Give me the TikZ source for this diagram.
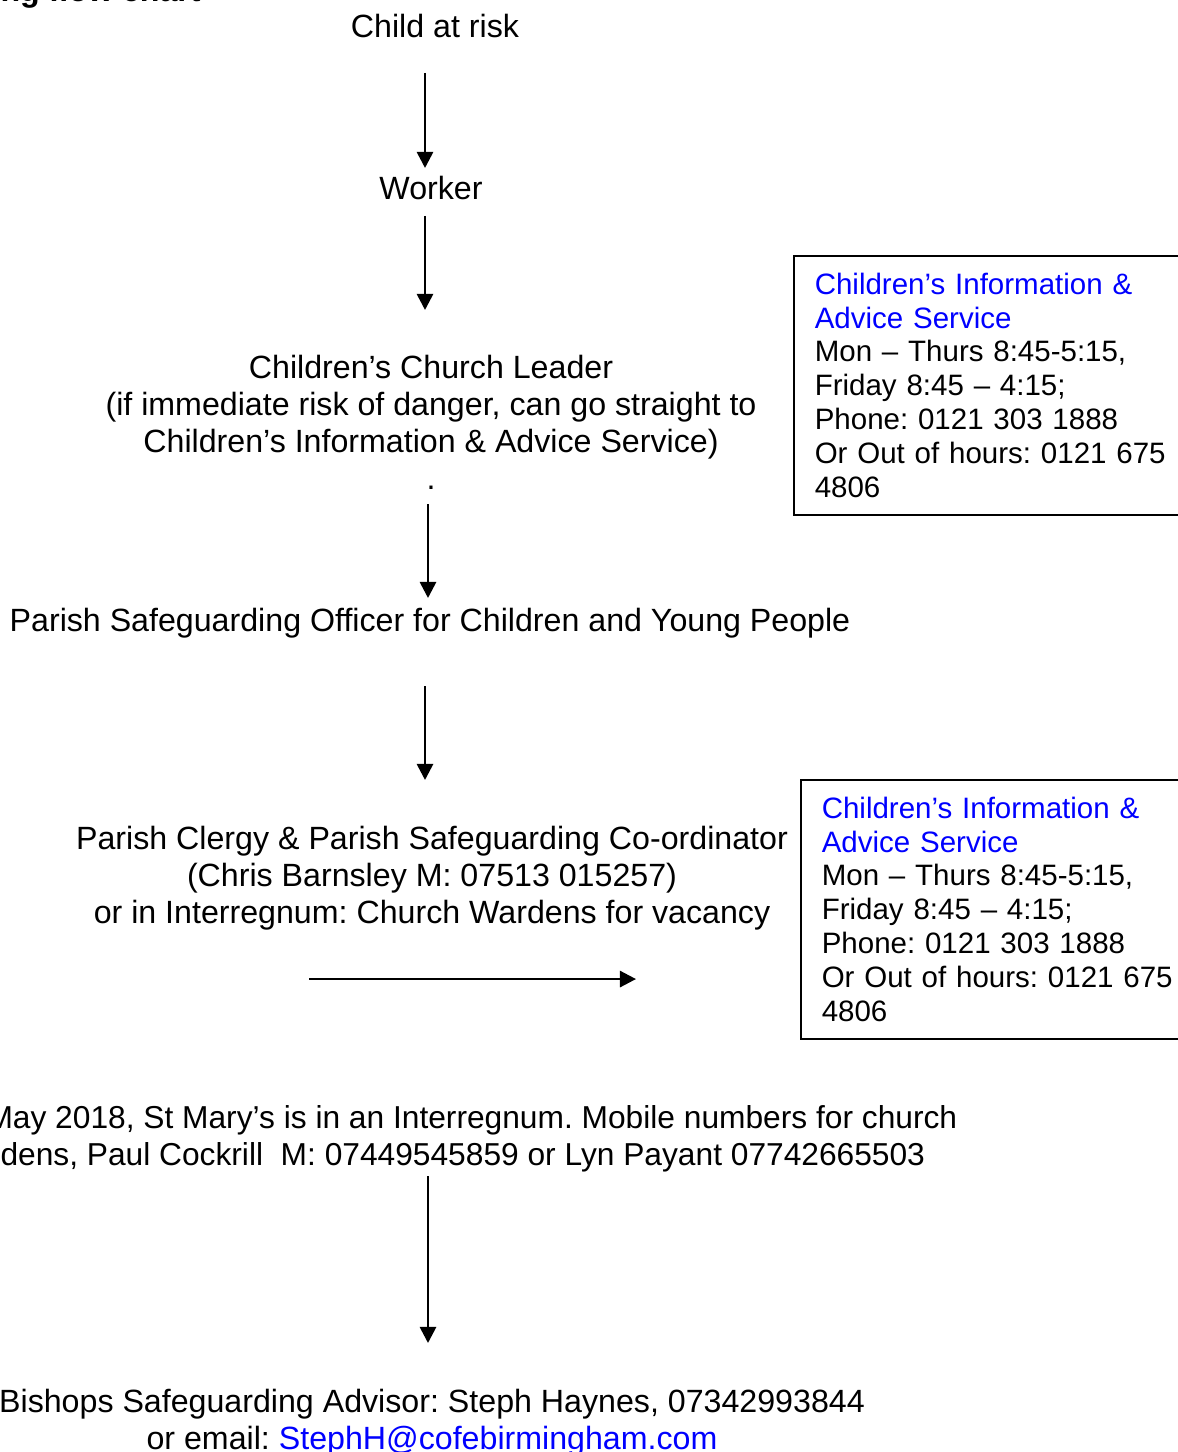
\documentclass[tikz,border=0pt]{standalone}
\usepackage{fontspec}
\setmainfont{Liberation Sans}
\usetikzlibrary{arrows.meta, positioning, calc}
\definecolor{linkblue}{RGB}{0,0,255}
\frenchspacing

\begin{document}
\begin{tikzpicture}[x=0.373pt, y=-0.373pt,
    flowtext/.style={font=\fontsize{12pt}{13.8pt}\selectfont, inner sep=0pt, align=center},
    notetext/.style={font=\fontsize{11.83pt}{13.8pt}\selectfont, inner sep=0pt, anchor=base west},
    infobox/.style={draw, line width=0.65pt, anchor=north west, inner xsep=7.8pt, inner ysep=6.3pt,
                    text width=150pt, align=left, font=\fontsize{11pt}{12.65pt}\selectfont},
    flow/.style={line width=1pt, -{Triangle[length=6pt, width=6pt]}}]
    \useasboundingbox (0,0) rectangle (1178,1452);

    %--- heading (cut at the top edge)
    \node[font=\bfseries\fontsize{12pt}{13.8pt}\selectfont, inner sep=0pt, anchor=base west] (title) at (0,2) {ng flow chart};

    %--- main column
    \node[flowtext, anchor=base]  (child)   at (435,38)  {Child at risk};
    \node[flowtext, anchor=base]  (worker)  at (431,200) {Worker};
    \node[flowtext, anchor=north] (leader)  at (431,355) {Children’s Church Leader\\(if immediate risk of danger, can go straight to\\Children’s Information \& Advice Service)\\.};
    \node[flowtext, anchor=base]  (officer) at (430,631) {Parish Safeguarding Officer for Children and Young People};
    \node[flowtext, anchor=north] (clergy)  at (432,826) {Parish Clergy \& Parish Safeguarding Co-ordinator\\(Chris Barnsley M: 07513 015257)\\or in Interregnum: Church Wardens for vacancy};
    \node[notetext] (note1) at (-14,1128) {May 2018, St Mary’s is in an Interregnum. Mobile numbers for church};
    \node[notetext] (note2) at (0,1165) {dens, Paul Cockrill\ \ M: 07449545859 or Lyn Payant 07742665503};
    \node[flowtext, anchor=north] (bishop)  at (432,1389) {Bishops Safeguarding Advisor: Steph Haynes, 07342993844\\or email: \textcolor{linkblue}{StephH@cofebirmingham.com}};

    %--- contact boxes
    \node[infobox] (cias1) at (793,255) {{\color{linkblue}Children’s Information \&}\\{\color{linkblue}Advice Service}\\Mon – Thurs 8:45-5:15,\\Friday 8:45 – 4:15;\\Phone: 0121 303 1888\\Or Out of hours: 0121 675\\4806};
    \node[infobox] (cias2) at (800,779) {{\color{linkblue}Children’s Information \&}\\{\color{linkblue}Advice Service}\\Mon – Thurs 8:45-5:15,\\Friday 8:45 – 4:15;\\Phone: 0121 303 1888\\Or Out of hours: 0121 675\\4806};

    %--- arrows
    \draw[flow] ($(child.base)+(-10,35)$) -- ($(worker.base)+(-6,-32)$);
    \draw[flow] ($(worker.base)+(-6,16)$) -- ($(leader.north)+(-6,-45)$);
    \draw[flow] ($(leader.south)+(-3,14)$) -- ($(officer.base)+(-2,-33)$);
    \draw[flow] ($(officer.base)+(-5,55)$) -- ($(clergy.north)+(-7,-46)$);
    \draw[flow] ($(clergy.south)+(-123,48)$) -- ($(clergy.south -| cias2.west)+(-164,48)$);
    \draw[flow] ($(note2.base -| bishop.north)+(-4,11)$) -- ($(bishop.north)+(-4,-46)$);
\end{tikzpicture}
\end{document}
